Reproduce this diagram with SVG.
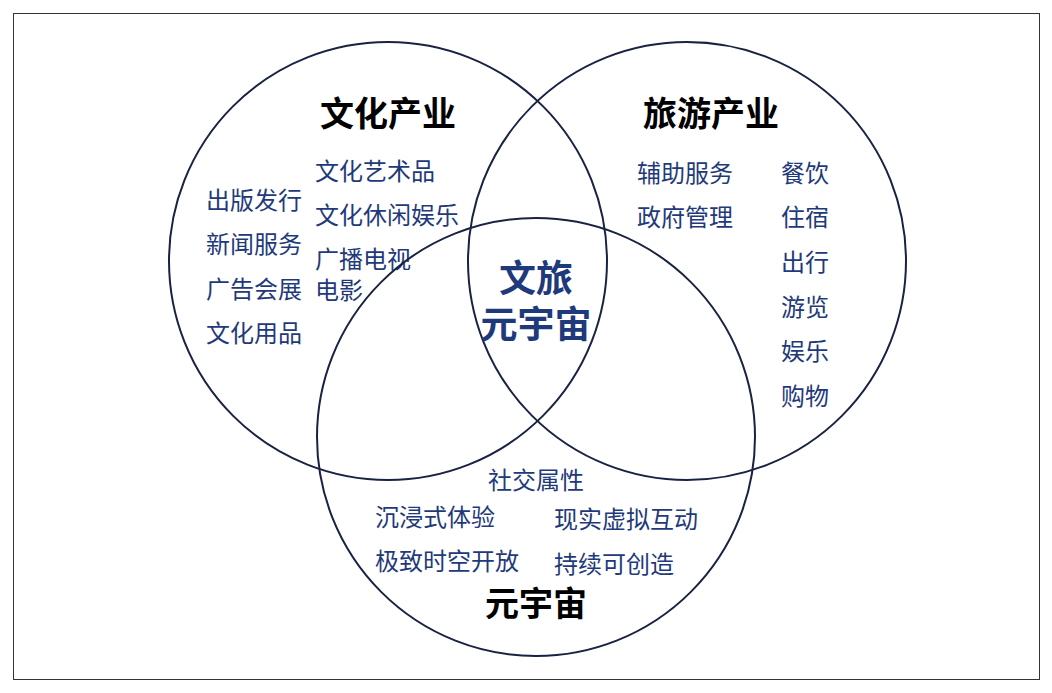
<svg xmlns="http://www.w3.org/2000/svg" width="1052" height="693" viewBox="0 0 1052 693">
<style>
.c{fill:none;stroke:#1a2244;stroke-width:2}
text{font-family:"Noto Sans CJK SC","Noto Sans",sans-serif}
.t{font-size:34px;font-weight:bold;fill:#000}
.i{font-size:24px;fill:#1f3a7a}
.m{font-size:37px;font-weight:bold;fill:#1f3a7a}
</style>
<rect width="1052" height="693" fill="#fff"/>
<rect x="13.5" y="13.5" width="1026" height="666" fill="none" stroke="#333" stroke-width="1"/>
<g id="connectors"></g>
<g id="culture">
<circle class="c" cx="388" cy="261" r="219"/>
<text class="t" x="388" y="126" text-anchor="middle">文化产业</text>
<text class="i" x="206" y="209">出版发行</text>
<text class="i" x="206" y="253">新闻服务</text>
<text class="i" x="206" y="298">广告会展</text>
<text class="i" x="206" y="342">文化用品</text>
<text class="i" x="315" y="180">文化艺术品</text>
<text class="i" x="315" y="224">文化休闲娱乐</text>
<text class="i" x="315" y="268">广播电视</text>
<text class="i" x="315" y="299">电影</text>
</g>
<g id="tourism">
<circle class="c" cx="687" cy="261" r="219"/>
<text class="t" x="711" y="126" text-anchor="middle">旅游产业</text>
<text class="i" x="637" y="182">辅助服务</text>
<text class="i" x="637" y="226">政府管理</text>
<text class="i" x="781" y="182">餐饮</text>
<text class="i" x="781" y="226">住宿</text>
<text class="i" x="781" y="271">出行</text>
<text class="i" x="781" y="316">游览</text>
<text class="i" x="781" y="360">娱乐</text>
<text class="i" x="781" y="405">购物</text>
</g>
<g id="metaverse">
<circle class="c" cx="536" cy="437" r="219"/>
<text class="t" x="536" y="616" text-anchor="middle">元宇宙</text>
<text class="i" x="536" y="489" text-anchor="middle">社交属性</text>
<text class="i" x="375" y="526">沉浸式体验</text>
<text class="i" x="375" y="570">极致时空开放</text>
<text class="i" x="554" y="528">现实虚拟互动</text>
<text class="i" x="554" y="573">持续可创造</text>
</g>
<g id="center">
<text class="m" x="536" y="292" text-anchor="middle">文旅</text>
<text class="m" x="536" y="338" text-anchor="middle">元宇宙</text>
</g>
</svg>
